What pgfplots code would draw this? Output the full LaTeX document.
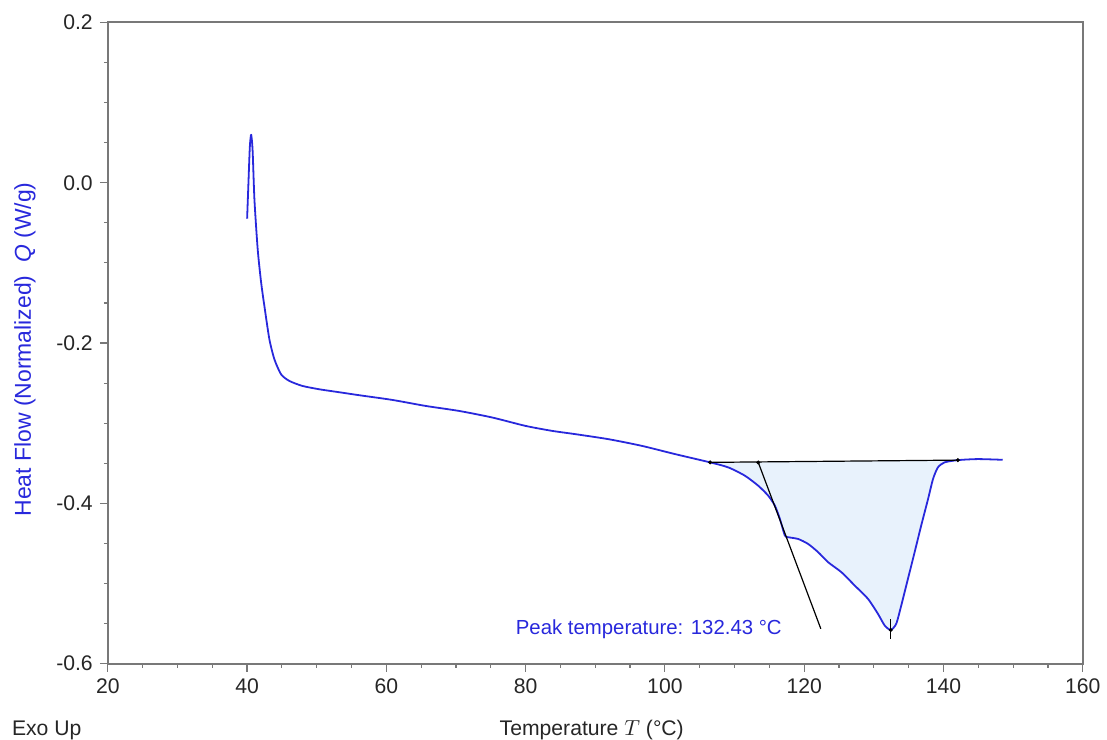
\documentclass[border=0pt]{standalone}
\usepackage{fontspec}
\setmainfont{Liberation Sans}
\usepackage{pgfplots}
\pgfplotsset{compat=1.18}
\definecolor{curve}{RGB}{40,40,220}
\definecolor{fillc}{RGB}{232,242,252}
\definecolor{axc}{RGB}{120,120,120}
\begin{document}
\begin{tikzpicture}
\path (0,0) rectangle (553.5bp,370bp);
\begin{axis}[
 at={(54bp,37.5bp)}, anchor=south west,
 scale only axis, width=488.5bp, height=321.25bp,
 xmin=20, xmax=160, ymin=-0.6, ymax=0.2,
 xtick={20,40,60,80,100,120,140,160},
 ytick={-0.6,-0.4,-0.2,0,0.2},
 minor x tick num=3, minor y tick num=3,
 tick align=outside, xtick pos=bottom, ytick pos=left,
 major tick length=4bp, minor tick length=2bp,
 every tick/.style={axc, line width=0.6bp},
 axis line style={axc, line width=1bp},
 ticklabel style={font=\fontsize{10.6bp}{12bp}\selectfont, text=black!85},
 /pgf/number format/assume math mode=true,
 yticklabel style={/pgf/number format/fixed, /pgf/number format/fixed zerofill, /pgf/number format/precision=1},
 clip=false,
]
\addplot[fill=fillc, draw=none, smooth, tension=0.4] coordinates {
(106.49,-0.3489) (109.11,-0.3552) (111.50,-0.3656) (113.41,-0.3781) (114.84,-0.3905)
(115.80,-0.4030) (116.52,-0.4196) (117.23,-0.4403) (117.71,-0.4423) (119.14,-0.4445)
(120.57,-0.4507) (122.01,-0.4610) (123.44,-0.4735) (125.34,-0.4859) (127.26,-0.5026)
(129.17,-0.5193) (130.60,-0.5380) (131.56,-0.5524) (132.43,-0.558) (133.22,-0.5503)
(133.94,-0.5275) (134.90,-0.4943) (135.86,-0.4610) (136.80,-0.4279) (137.79,-0.3946)
(138.50,-0.3697) (139.20,-0.3552) (140.16,-0.3489) (142.06,-0.3461)
} -- cycle;
\addplot[curve, line width=0.9bp, line join=round, smooth, tension=0.4] coordinates {
(40.01,-0.0447) (40.2,0.0) (40.4,0.045) (40.59,0.060) (40.8,0.04) (41.06,-0.021)
(41.53,-0.0833) (42.02,-0.1244) (42.49,-0.1539) (43.21,-0.1955) (43.93,-0.2204)
(44.89,-0.2391) (46.07,-0.2473) (47.94,-0.2535) (50.37,-0.2577) (53.24,-0.2614)
(56.10,-0.2651) (60.87,-0.2710) (65.66,-0.2785) (70.43,-0.2847) (75.20,-0.2929)
(79.99,-0.3034) (83.80,-0.3096) (87.15,-0.3137) (91.92,-0.3200) (96.69,-0.3283)
(101.47,-0.3386) (106.49,-0.3489) (109.11,-0.3552) (111.50,-0.3656) (113.41,-0.3781)
(114.84,-0.3905) (115.80,-0.4030) (116.52,-0.4196) (117.23,-0.4403) (117.71,-0.4423)
(119.14,-0.4445) (120.57,-0.4507) (122.01,-0.4610) (123.44,-0.4735) (125.34,-0.4859)
(127.26,-0.5026) (129.17,-0.5193) (130.60,-0.5380) (131.56,-0.5524) (132.43,-0.558)
(133.22,-0.5503) (133.94,-0.5275) (134.90,-0.4943) (135.86,-0.4610) (136.80,-0.4279)
(137.79,-0.3946) (138.50,-0.3697) (139.20,-0.3552) (140.16,-0.3489) (142.06,-0.3461)
(144.93,-0.3448) (148.51,-0.3457)
};
\addplot[black, line width=0.6bp] coordinates {(106.49,-0.3489) (142.06,-0.3461)};
\addplot[black, line width=0.6bp] coordinates {(113.41,-0.349) (122.39,-0.5565)};
\addplot[black, line width=0.6bp] coordinates {(132.43,-0.5445) (132.43,-0.569)};
\addplot[only marks, mark=*, mark size=0.8bp, black] coordinates {(106.49,-0.3489) (113.41,-0.349) (142.06,-0.3461) (132.43,-0.558)};
\node[anchor=base west, text=curve, font=\fontsize{10.2bp}{12bp}\selectfont, inner sep=0pt] at (axis cs:78.55,-0.564) {Peak temperature: 132.43 °C};
\node[anchor=base, font=\fontsize{10.6bp}{12bp}\selectfont, text=black!85, inner sep=0pt] at (axis description cs:0.4964,-0.112) {Temperature $T$ (°C)};
\node[anchor=base west, font=\fontsize{10.6bp}{12bp}\selectfont, text=black!85, inner sep=0pt] at (axis description cs:-0.0986,-0.112) {Exo Up};
\node[rotate=90, anchor=center, text=curve, font=\fontsize{11.5bp}{12bp}\selectfont, inner sep=0pt] at (axis description cs:-0.085,0.49) {Heat Flow (Normalized)\ \ \textit{Q} (W/g)};
\end{axis}
\end{tikzpicture}
\end{document}
